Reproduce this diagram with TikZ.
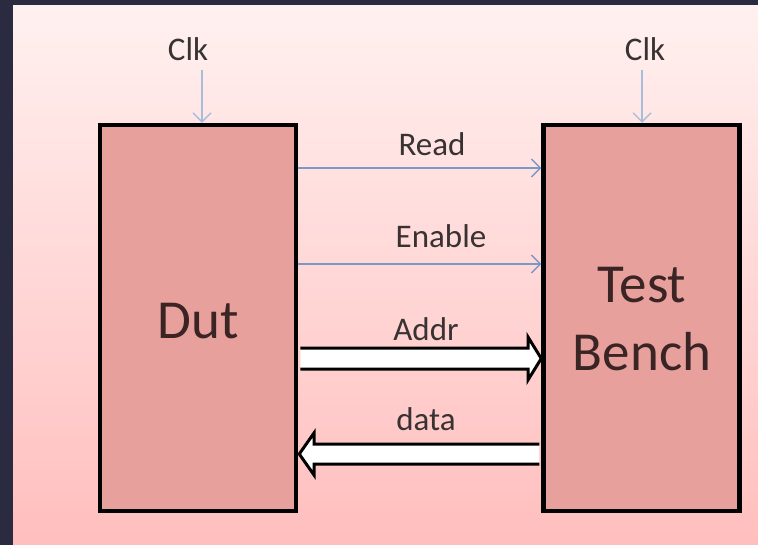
\documentclass[tikz,border=0pt]{standalone}
\usepackage{fontspec}
\setmainfont{Carlito}
\usetikzlibrary{arrows.meta,calc}
\definecolor{frame}{HTML}{2A2B40}
\definecolor{pagetop}{HTML}{FFF1F0}
\definecolor{pagebot}{HTML}{FFBEBD}
\definecolor{boxfill}{HTML}{E8A09D}
\definecolor{sigline}{HTML}{7C98C6}
\definecolor{clkline}{HTML}{A8BCDC}
\definecolor{ink}{HTML}{383232}
\definecolor{bigink}{HTML}{3A2424}
\tikzset{
  blockbox/.style={draw=black, line width=4.5pt, fill=boxfill,
    minimum width=196pt, minimum height=386pt, inner sep=0pt},
  bigtext/.style={font=\fontsize{55}{68}\selectfont, text=bigink, anchor=base, inner sep=0pt},
  siglabel/.style={font=\fontsize{33}{36}\selectfont, text=ink, anchor=base, inner sep=0pt},
  sigarrow/.style={draw=sigline, line width=1.6pt, -{Straight Barb[length=9pt,width=18pt,line width=1.4pt]}},
  clkarrow/.style={draw=clkline, line width=1.6pt, -{Straight Barb[length=9pt,width=18pt,line width=1.4pt]}},
  fatarrow/.style={draw=black, line width=3pt, fill=white, line join=miter}
}
\begin{document}
\begin{tikzpicture}[x=1pt, y=-1pt]
  \useasboundingbox (0,0) rectangle (758,544);
  % pink backdrop with a dark strip along the left and top edges
  \shade[top color=pagetop, bottom color=pagebot] (12,4) rectangle (764,550);
  \fill[frame] (-4,-4) rectangle (13,550);
  \fill[frame] (-4,-4) rectangle (764,5);

  % the two blocks
  \node[blockbox] (dut) at (198,318) {};
  \node[blockbox] (tb) at (641.5,318) {};
  \node[bigtext] (dutlbl) at (198,338) {Dut};
  \node[bigtext] (tblbl1) at (642,302) {Test};
  \node[bigtext] (tblbl2) at (642,370) {Bench};

  % clock inputs
  \node[siglabel] (clka) at (188,60) {Clk};
  \node[siglabel] (clkb) at (645,60) {Clk};
  \coordinate (clkatail) at (202,70);
  \coordinate (clkbtail) at (642,70);
  \draw[clkarrow] (clkatail) -- (clkatail |- dut.north);
  \draw[clkarrow] (clkbtail) -- (clkbtail |- tb.north);

  % single-wire control signals
  \coordinate (readsrc) at (298,168);
  \coordinate (ensrc) at (298,264);
  \draw[sigarrow] (readsrc) -- (readsrc -| tb.west);
  \draw[sigarrow] (ensrc) -- (ensrc -| tb.west);
  \node[siglabel] (readlbl) at (432,155) {Read};
  \node[siglabel] (enlbl) at (441,247) {Enable};

  % address bus, Dut to Test Bench
  \draw[fatarrow] ($(dut.east |- 0,348)+(2,0)$) -- (528,348) -- (528,337)
    -- (tb.west |- 0,358.5) -- (528,380) -- (528,369) -- ($(dut.east |- 0,369)+(2,0)$);
  \node[siglabel] (addrlbl) at (426,340) {Addr};

  % data bus, Test Bench to Dut
  \draw[fatarrow] ($(tb.west |- 0,444)+(-2,0)$) -- (314,444) -- (314,433)
    -- ($(dut.east |- 0,454)+(1,0)$) -- (314,475) -- (314,464) -- ($(tb.west |- 0,464)+(-2,0)$);
  \node[siglabel] (datalbl) at (426,430) {data};
\end{tikzpicture}
\end{document}
